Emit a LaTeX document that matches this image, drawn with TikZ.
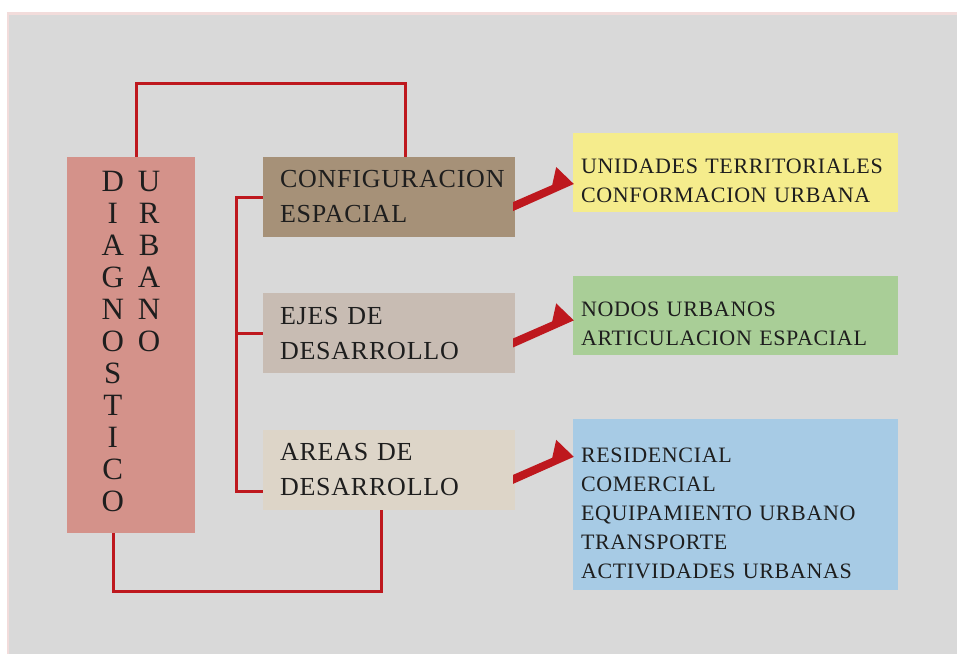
\documentclass[tikz,border=0pt]{standalone}
\usepackage{fontspec}
\setmainfont{Liberation Serif}[LetterSpace=3]
\usetikzlibrary{calc}
\usetikzlibrary{positioning}

\definecolor{fondo}{RGB}{217,217,217}
\definecolor{borde}{RGB}{242,220,219}
\definecolor{rojo}{RGB}{190,24,30}
\definecolor{texto}{RGB}{30,30,30}
\definecolor{diagcol}{RGB}{212,146,138}
\definecolor{configcol}{RGB}{166,145,120}
\definecolor{ejescol}{RGB}{200,188,179}
\definecolor{areascol}{RGB}{221,213,200}
\definecolor{amarillo}{RGB}{245,236,140}
\definecolor{verde}{RGB}{169,206,151}
\definecolor{azul}{RGB}{167,203,229}

\tikzset{
 link/.style={rojo, line width=3pt},
 midbox/.style={minimum width=252pt, minimum height=80pt, inner sep=0pt, text width=218pt,
   align=left, text=texto, font=\fontsize{26}{35}\selectfont},
 listbox/.style={minimum width=325pt, inner sep=0pt, text width=309pt,
   align=left, text=texto, font=\fontsize{22}{29}\selectfont,
   execute at begin node={\rule{0pt}{32pt}}},
}

\begin{document}
\begin{tikzpicture}[x=1pt,y=-1pt]
\useasboundingbox (0,0) rectangle (957,654);
\fill[borde] (7,12) rectangle (957,654);
\fill[fondo] (9,15) rectangle (957,654);

% cuadro principal
\node[fill=diagcol, minimum width=128pt, minimum height=376pt, inner sep=0pt, text=texto,
  font=\fontsize{31}{32}\selectfont] (diag) at (131,345)
  {\begin{tabular}{@{}c@{\hspace{14pt}}c@{}}
   D&U\\ I&R\\ A&B\\ G&A\\ N&N\\ O&O\\ S&\\ T&\\ I&\\ C&\\ O&
   \end{tabular}};

% temas
\node[midbox, fill=configcol] (config) at (389,197) {CONFIGURACION\\ESPACIAL};
\node[midbox, fill=ejescol, below=56pt of config] (ejes) {EJES DE\\DESARROLLO};
\node[midbox, fill=areascol, below=56pt of ejes] (areas) {AREAS DE\\DESARROLLO};

% contenidos
\node[listbox, fill=amarillo, minimum height=79pt] (unidades) at (735.5,172.5)
  {UNIDADES TERRITORIALES\\CONFORMACION URBANA};
\node[listbox, fill=verde, minimum height=79pt] (nodos) at (735.5,315.5)
  {NODOS URBANOS\\ARTICULACION ESPACIAL};
\node[listbox, fill=azul, minimum height=171pt] (usos) at (735.5,504.5)
  {RESIDENCIAL\\COMERCIAL\\EQUIPAMIENTO URBANO\\TRANSPORTE\\ACTIVIDADES URBANAS};

% conectores
\draw[link] ([xshift=5pt]diag.north) -- ++(0,-73) -| ([xshift=16pt]config.north);
\draw[link] (config.west) -- ++(-26,0) |- ($(areas.west)+(0,22)$);
\draw[link] (ejes.west) -- ++(-26,0);
\draw[link] ([xshift=-18pt]diag.south) -- ++(0,58) -| ([xshift=-8pt]areas.south);

\foreach \src/\dst in {config/unidades, ejes/nodos, areas/usos} {
 \fill[rojo] ($(\src.east)+(-2,14)$) -- ($(\src.east)+(-2,5)$) -- ($(\src.east)+(37,-12)$)
   -- ($(\src.east)+(41,-30)$) -- ($(\src.east -| \dst.west)+(1,-13)$) -- cycle;
}
\end{tikzpicture}
\end{document}
